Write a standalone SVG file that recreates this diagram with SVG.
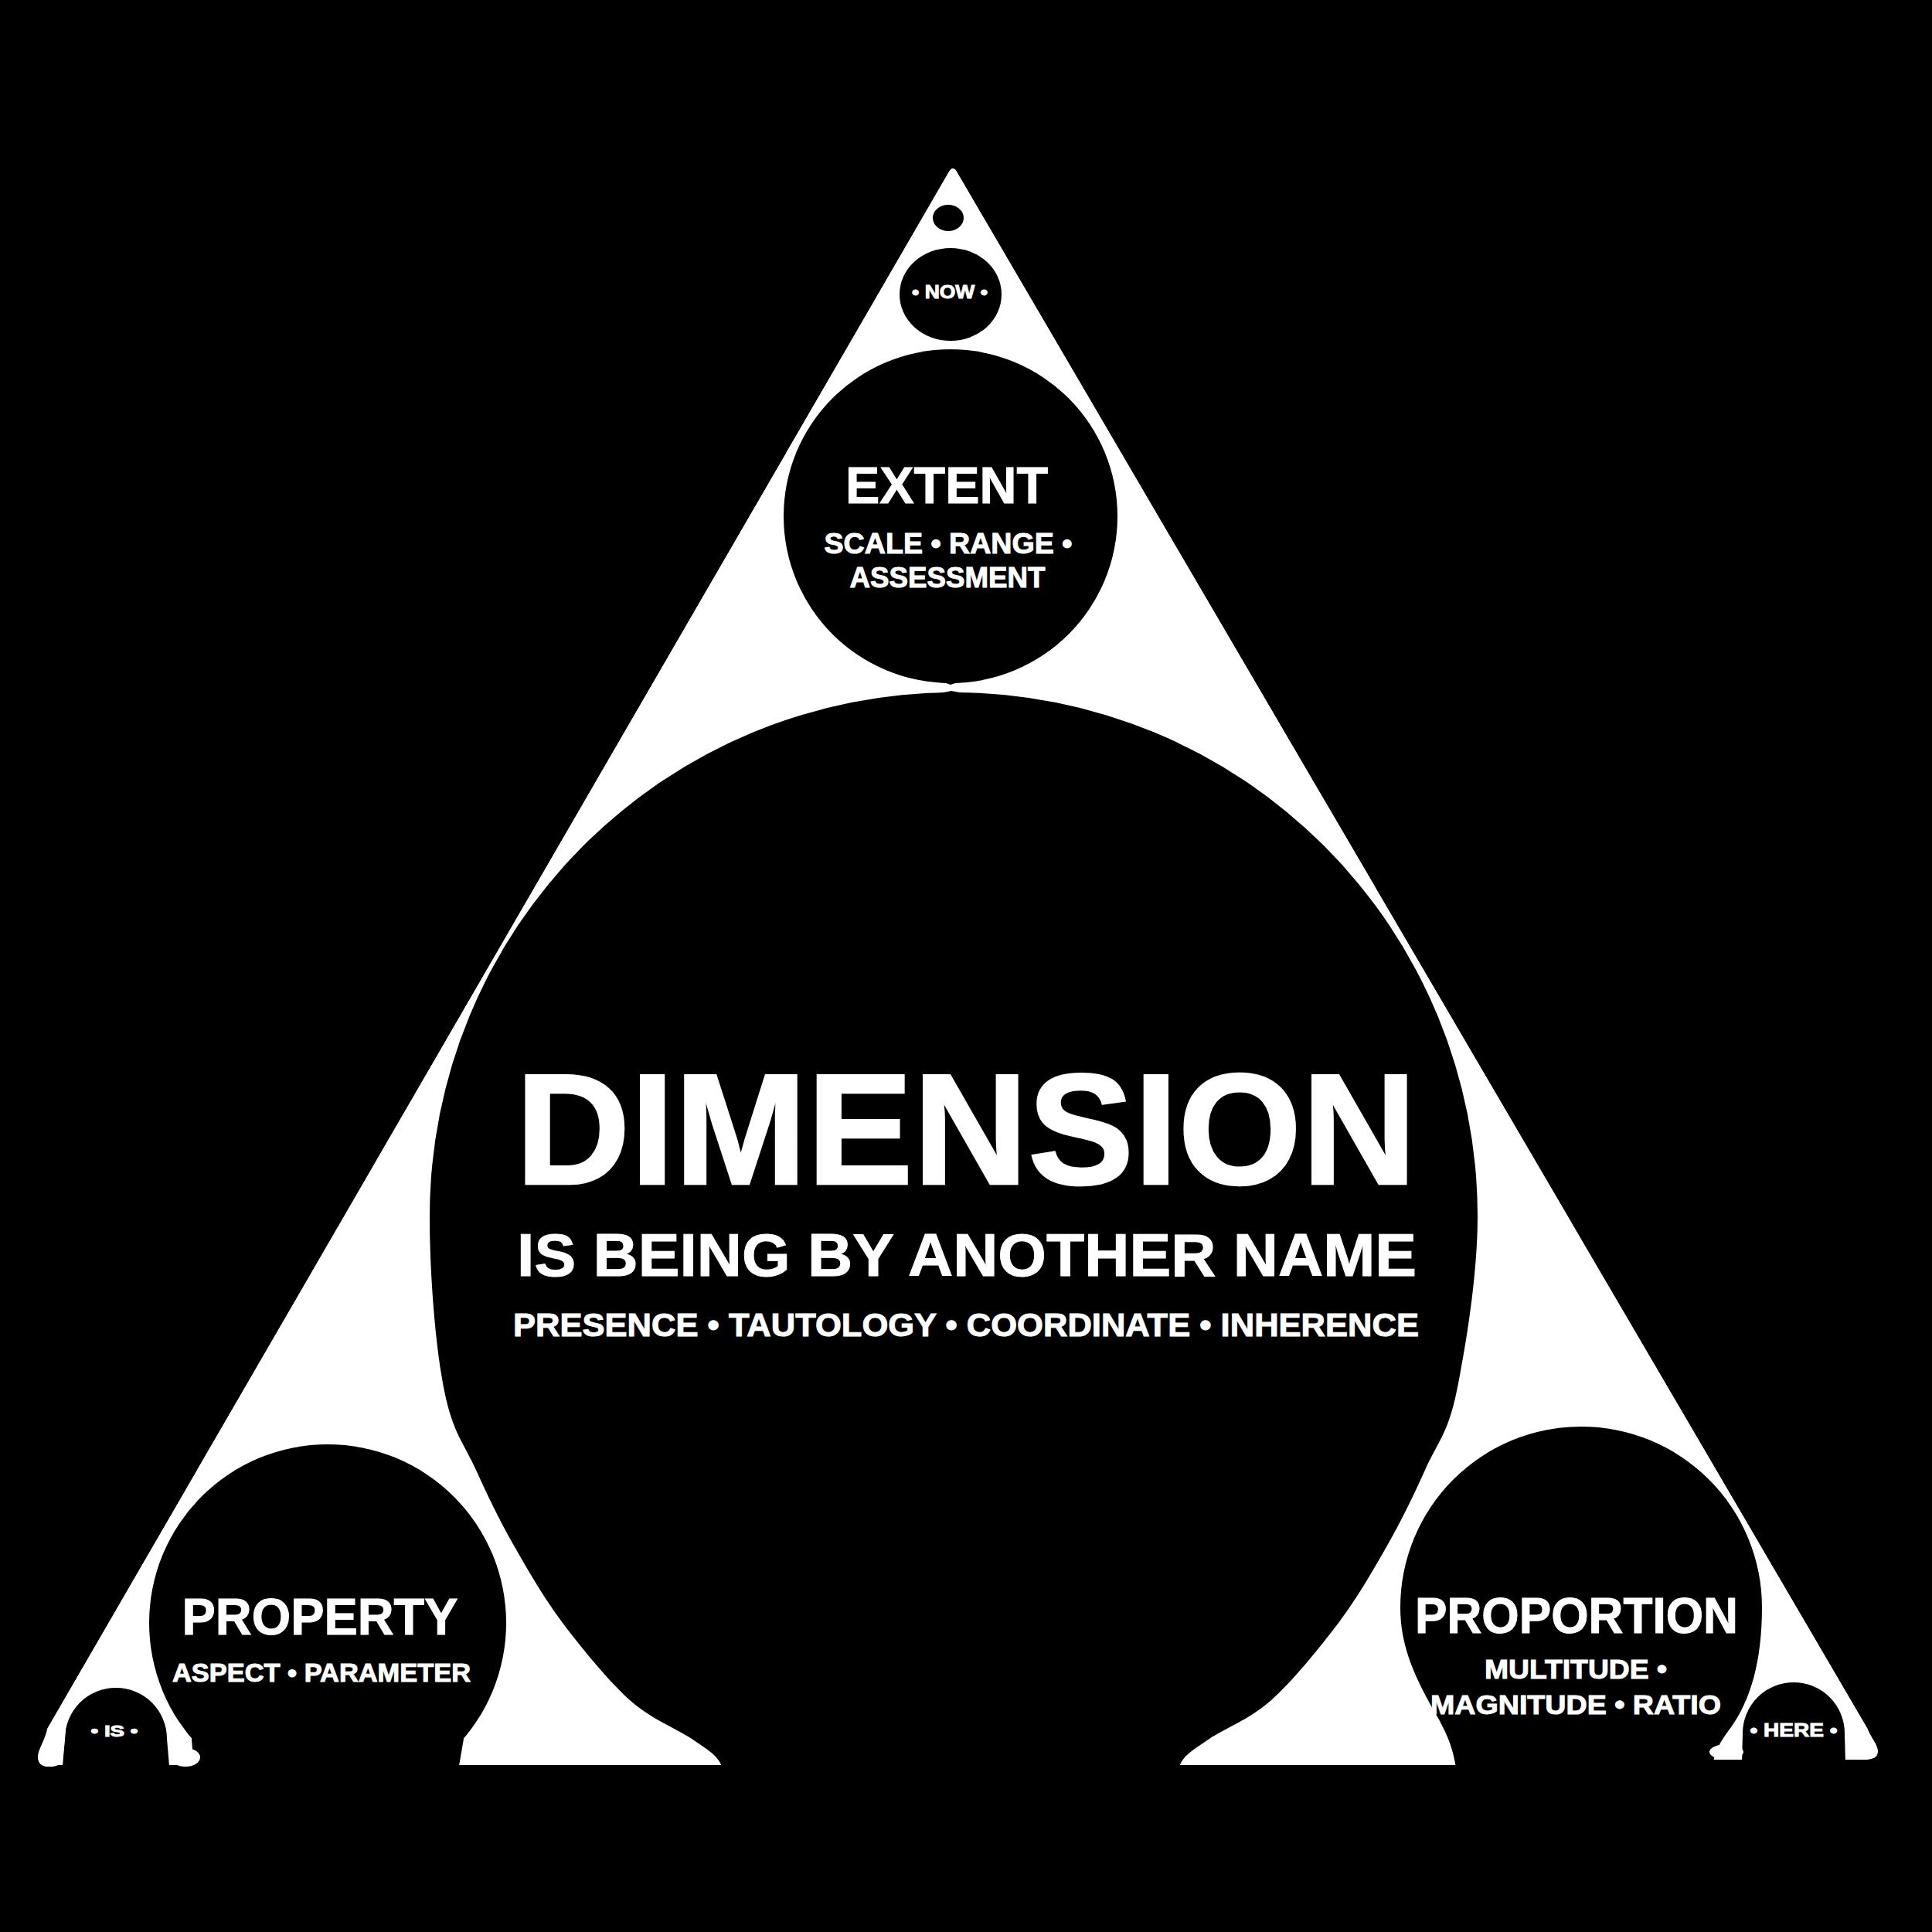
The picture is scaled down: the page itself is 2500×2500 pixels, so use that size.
<svg xmlns="http://www.w3.org/2000/svg" width="2500" height="2500" viewBox="0 0 2500 2500">
<defs>
<clipPath id="triClip"><path d="M1227 224 Q1233 212 1239 224 L2444 2284 L34 2284 Z"/></clipPath>
<style>
.bk{fill:#000}
.wt{fill:#fff}
text{font-family:"Liberation Sans",Arial,Helvetica,sans-serif;font-weight:bold;fill:#fff;text-anchor:middle;stroke:#fff;stroke-width:1}
text.big{stroke-width:2.5}
</style>
</defs>
<rect width="2500" height="2500" fill="#000"/>
<g id="triangle">
<path class="wt" d="M1227 224 Q1233 212 1239 224 L2444 2284 L34 2284 Z"/>
</g>
<g id="apex-dot">
<ellipse class="bk" cx="1227" cy="282" rx="20" ry="17"/>
</g>
<g id="now">
<ellipse class="bk" cx="1230" cy="381" rx="66" ry="60"/>
<text x="1229" y="386" font-size="24" textLength="98" lengthAdjust="spacingAndGlyphs">• NOW •</text>
</g>
<g id="extent">
<circle class="bk" cx="1230" cy="668" r="216"/>
<path class="bk" d="M1168 874 Q1212 879 1230 886 Q1248 879 1292 874 Z"/>
<text x="1225" y="651" font-size="67" textLength="262" lengthAdjust="spacingAndGlyphs">EXTENT</text>
<text x="1227" y="716" font-size="37" textLength="321" lengthAdjust="spacingAndGlyphs">SCALE • RANGE •</text>
<text x="1226" y="760" font-size="37" textLength="253" lengthAdjust="spacingAndGlyphs">ASSESSMENT</text>
</g>
<g id="dimension">
<path class="bk" d="M556 1574 C556 1652 564 1746 575 1800 C586 1854 600 1867 615 1900 C630 1933 646 1967 665 2000 C684 2033 703 2067 728 2100 C753 2133 787 2175 815 2200 C843 2225 876 2237 895 2250 C914 2263 923 2268 930 2278 C937 2288 936 2300 936 2310 L936 2340 L1524 2340 L1524 2310 C1524 2300 1523 2288 1530 2278 C1537 2268 1546 2263 1565 2250 C1584 2237 1617 2225 1645 2200 C1673 2175 1707 2133 1732 2100 C1757 2067 1776 2033 1795 2000 C1814 1967 1830 1933 1845 1900 C1860 1867 1874 1854 1885 1800 C1896 1746 1912 1652 1912 1574 A678 678 0 0 0 1234 896 A678 678 0 0 0 556 1574 Z"/>
<path class="bk" d="M1160 901 Q1210 899 1231 894 Q1252 899 1300 901 Z"/>
<text class="big" x="1250" y="1532" font-size="204" textLength="1166" lengthAdjust="spacingAndGlyphs">DIMENSION</text>
<text x="1251" y="1651" font-size="78" textLength="1164" lengthAdjust="spacingAndGlyphs">IS BEING BY ANOTHER NAME</text>
<text x="1250" y="1729" font-size="42" textLength="1172" lengthAdjust="spacingAndGlyphs">PRESENCE • TAUTOLOGY • COORDINATE • INHERENCE</text>
</g>
<g id="property">
<circle class="bk" cx="424" cy="2100" r="231"/>
<polygon class="bk" points="248,2250 600,2250 588,2320 253,2320"/>
<text x="414" y="2115" font-size="67" textLength="357" lengthAdjust="spacingAndGlyphs">PROPERTY</text>
<text x="416" y="2176" font-size="33" textLength="386" lengthAdjust="spacingAndGlyphs">ASPECT • PARAMETER</text>
</g>
<g id="proportion">
<path class="bk" d="M1812 2080 A234 234 0 0 1 2280 2080 C2280 2150 2265 2200 2240 2235 C2225 2255 2214 2270 2212 2320 L1887 2320 C1885 2270 1875 2250 1862 2225 C1830 2170 1812 2130 1812 2080 Z"/>
<text x="2040" y="2113" font-size="64" textLength="418" lengthAdjust="spacingAndGlyphs">PROPORTION</text>
<text x="2039" y="2172" font-size="35" textLength="236" lengthAdjust="spacingAndGlyphs">MULTITUDE •</text>
<text x="2039" y="2218" font-size="35" textLength="376" lengthAdjust="spacingAndGlyphs">MAGNITUDE • RATIO</text>
</g>
<g id="is">
<circle class="bk" cx="150" cy="2250" r="66"/>
<polygon class="bk" points="84,2250 216,2250 222,2320 78,2320"/>
<text x="148" y="2247" font-size="21" textLength="61" lengthAdjust="spacingAndGlyphs">• IS •</text>
</g>
<g id="here">
<circle class="bk" cx="2321" cy="2243" r="66"/>
<polygon class="bk" points="2255,2243 2387,2243 2389,2320 2253,2320"/>
<text x="2321" y="2247" font-size="24" textLength="113" lengthAdjust="spacingAndGlyphs">• HERE •</text>
</g>
<g id="edges-and-feet">
<path d="M34 2284 L1227 224 Q1233 212 1239 224 L2444 2284" fill="none" stroke="#fff" stroke-width="8" clip-path="url(#triClip)"/>
<path class="bk" d="M0 2238 L61 2238 L61 2300 L0 2300 Z"/>
<path class="bk" d="M2417 2238 L2500 2238 L2500 2300 L2417 2300 Z"/>
<rect class="bk" x="2140" y="2277" width="360" height="30"/>
<path class="wt" d="M61 2238 C57 2255 48 2265 49 2275 C50 2286 60 2287 68 2286 C76 2285 80 2282 81 2276 L84 2250 L85 2238 Z"/>
<ellipse class="wt" cx="240" cy="2274" rx="19" ry="12"/>
<ellipse class="wt" cx="2234" cy="2267" rx="22" ry="10"/>
<path class="wt" d="M2417 2238 C2422 2250 2430 2258 2430 2266 C2430 2276 2420 2277 2410 2277 C2400 2277 2392 2276 2389 2272 L2387 2238 Z"/>
<rect class="bk" x="0" y="2286" width="2500" height="214"/>
</g>
<g id="connectors"/>
</svg>
